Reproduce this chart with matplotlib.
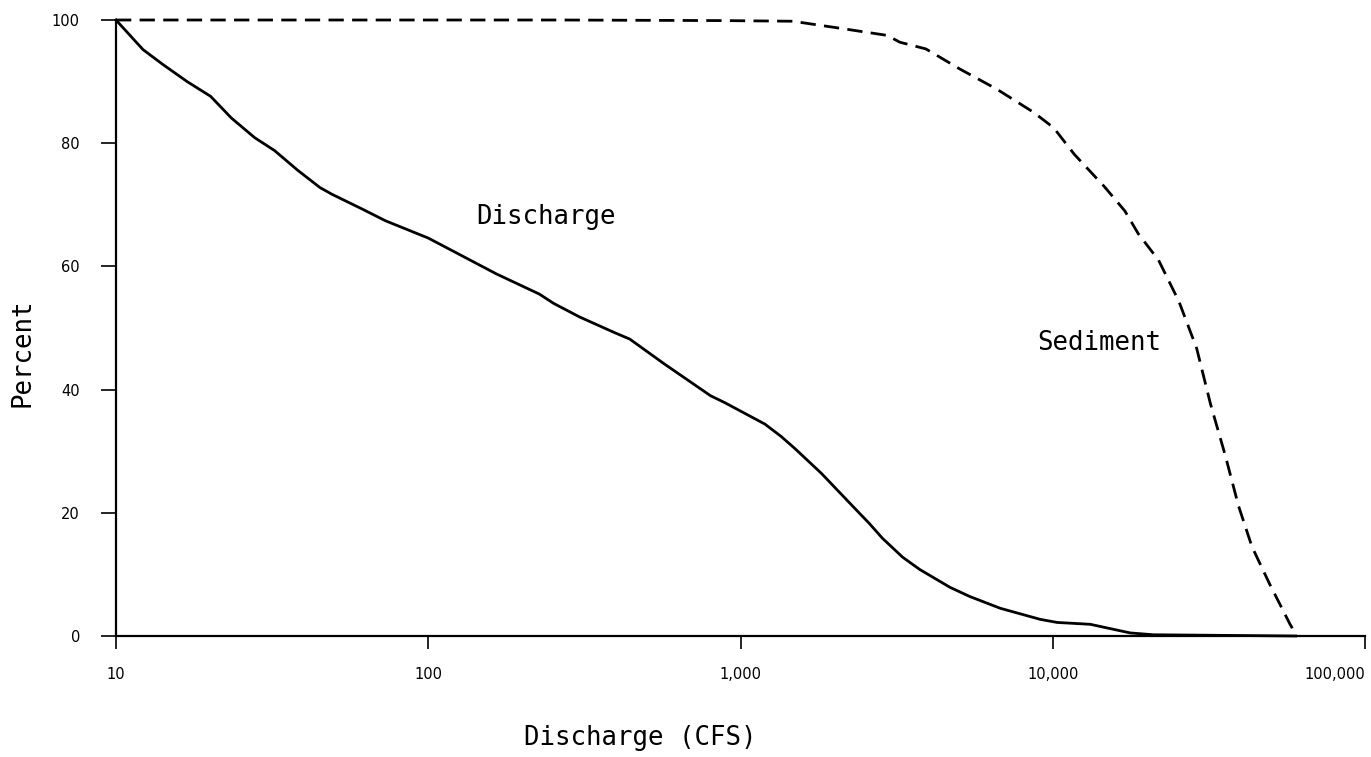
import matplotlib
matplotlib.use("Agg")
import matplotlib.pyplot as plt

# flow-duration style curves, percent vs discharge (cfs)
discharge_cfs = [10, 12.2, 14.2, 16.9, 20.1, 23.4, 27.8, 32.2, 38.2, 45, 49.2,
                 61.5, 73, 100, 122, 165, 227, 252, 305, 393, 442, 569, 802,
                 889, 1197, 1349, 1496, 1816, 2275, 2582, 2844, 3304, 3750,
                 4688, 5430, 6790, 9120, 10330, 13180, 17700, 21000, 60000]
discharge_pct = [100, 95.2, 92.7, 90.0, 87.6, 84.1, 80.9, 78.8, 75.6, 72.8, 71.7,
                 69.3, 67.4, 64.6, 62.3, 58.8, 55.5, 54.0, 51.8, 49.3, 48.2, 44.2, 39.0,
                 37.9, 34.4, 32.4, 30.4, 26.4, 21.2, 18.3, 15.9, 12.8, 10.8,
                 7.9, 6.4, 4.5, 2.7, 2.2, 1.9, 0.5, 0.2, 0]

sediment_cfs = [10, 77, 264, 898, 1469, 2123, 2951, 3236, 3926, 5058, 6607,
                8690, 10070, 11720, 14660, 17020, 18790, 21830, 25360, 28900,
                31990, 35650, 39360, 43450, 49430, 57540, 60500]
sediment_pct = [100, 100, 100, 99.9, 99.8, 98.6, 97.5, 96.4, 95.3, 92.0, 88.8,
                85.0, 82.5, 78.2, 72.9, 69.0, 65.3, 61.0, 54.3, 46.7,
                37.7, 29.4, 21.1, 14.5, 8.5, 1.9, 0]

x_ticks = [10, 100, 1000, 10000, 100000]
x_tick_labels = ["10", "100", "1,000", "10,000", "100,000"]
y_ticks = [0, 20, 40, 60, 80, 100]

W, H = 1371, 757
fig = plt.figure(figsize=(W / 100, H / 100), dpi=100)
fig.patch.set_facecolor("white")

left, right, bottom, top = 116, 1365, 636, 20
ax = fig.add_axes([left / W, 1 - bottom / H, (right - left) / W, (bottom - top) / H])

ax.plot(discharge_cfs, discharge_pct, color="black", lw=2.0, clip_on=False,
        solid_joinstyle="round")
ax.plot(sediment_cfs, sediment_pct, color="black", lw=2.0, clip_on=False,
        dashes=(5.5, 3.0))

ax.set_xscale("log")
ax.set_xlim(10, 100000)
ax.set_ylim(0, 100)

for side in ["top", "right"]:
    ax.spines[side].set_visible(False)
for side in ["left", "bottom"]:
    ax.spines[side].set_linewidth(1.6)

ax.set_xticks(x_ticks)
ax.set_xticklabels(x_tick_labels)
ax.minorticks_off()
ax.set_yticks(y_ticks)
ax.tick_params(axis="x", length=9, width=1.2, pad=13, labelsize=10.5)
ax.tick_params(axis="y", length=11, width=1.2, pad=15, labelsize=10.5)
ax.get_xticklabels()[-1].set_horizontalalignment("right")

mono = "DejaVu Sans Mono"
ax.text(238, 68, "Discharge", fontsize=18.5, family=mono, ha="center", va="center")
ax.text(14090, 47.6, "Sediment", fontsize=18.5, family=mono, ha="center", va="center")

fig.text(23 / W, 1 - 353 / H, "Percent", fontsize=18.5, family=mono,
         rotation=90, ha="center", va="center")
fig.text(640 / W, 1 - 738 / H, "Discharge (CFS)", fontsize=18.5, family=mono,
         ha="center", va="center")

fig.savefig("out.png", dpi=100)
